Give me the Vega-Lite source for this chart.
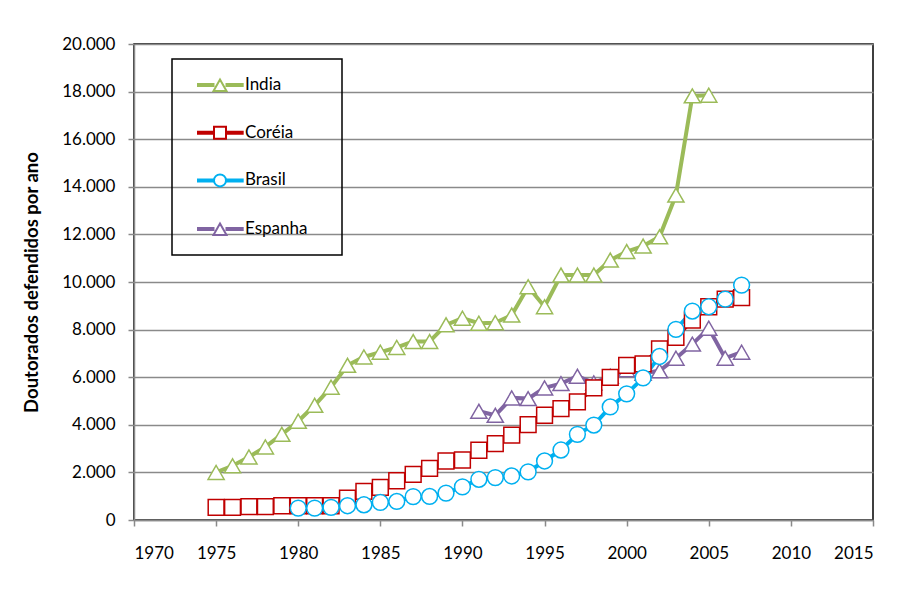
{
  "$schema": "https://vega.github.io/schema/vega-lite/v6.json",
  "width": 739,
  "height": 476,
  "autosize": "none",
  "padding": {"left": 134, "top": 44, "right": 43, "bottom": 82},
  "background": "white",
  "config": {
    "font": "Lato",
    "view": {"stroke": "black", "strokeWidth": 1.5},
    "axis": {
      "labelFont": "Lato", "labelFontSize": 17, "labelColor": "black",
      "domainColor": "#8a8a8a", "domainWidth": 1.5,
      "tickColor": "#8a8a8a", "tickWidth": 1.5, "tickSize": 6
    }
  },
  "data": {
    "values": [
      {"pais": "India", "ano": 1975, "v": 2000},
      {"pais": "India", "ano": 1976, "v": 2280},
      {"pais": "India", "ano": 1977, "v": 2650},
      {"pais": "India", "ano": 1978, "v": 3070},
      {"pais": "India", "ano": 1979, "v": 3600},
      {"pais": "India", "ano": 1980, "v": 4150},
      {"pais": "India", "ano": 1981, "v": 4820},
      {"pais": "India", "ano": 1982, "v": 5580},
      {"pais": "India", "ano": 1983, "v": 6500},
      {"pais": "India", "ano": 1984, "v": 6850},
      {"pais": "India", "ano": 1985, "v": 7050},
      {"pais": "India", "ano": 1986, "v": 7250},
      {"pais": "India", "ano": 1987, "v": 7500},
      {"pais": "India", "ano": 1988, "v": 7500},
      {"pais": "India", "ano": 1989, "v": 8200},
      {"pais": "India", "ano": 1990, "v": 8480},
      {"pais": "India", "ano": 1991, "v": 8270},
      {"pais": "India", "ano": 1992, "v": 8290},
      {"pais": "India", "ano": 1993, "v": 8610},
      {"pais": "India", "ano": 1994, "v": 9800},
      {"pais": "India", "ano": 1995, "v": 8960},
      {"pais": "India", "ano": 1996, "v": 10290},
      {"pais": "India", "ano": 1997, "v": 10290},
      {"pais": "India", "ano": 1998, "v": 10290},
      {"pais": "India", "ano": 1999, "v": 10920},
      {"pais": "India", "ano": 2000, "v": 11280},
      {"pais": "India", "ano": 2001, "v": 11510},
      {"pais": "India", "ano": 2002, "v": 11900},
      {"pais": "India", "ano": 2003, "v": 13650},
      {"pais": "India", "ano": 2004, "v": 17820},
      {"pais": "India", "ano": 2005, "v": 17850},
      {"pais": "Coréia", "ano": 1975, "v": 530},
      {"pais": "Coréia", "ano": 1976, "v": 530},
      {"pais": "Coréia", "ano": 1977, "v": 560},
      {"pais": "Coréia", "ano": 1978, "v": 560},
      {"pais": "Coréia", "ano": 1979, "v": 600},
      {"pais": "Coréia", "ano": 1980, "v": 600},
      {"pais": "Coréia", "ano": 1981, "v": 600},
      {"pais": "Coréia", "ano": 1982, "v": 600},
      {"pais": "Coréia", "ano": 1983, "v": 920},
      {"pais": "Coréia", "ano": 1984, "v": 1200},
      {"pais": "Coréia", "ano": 1985, "v": 1370},
      {"pais": "Coréia", "ano": 1986, "v": 1650},
      {"pais": "Coréia", "ano": 1987, "v": 1920},
      {"pais": "Coréia", "ano": 1988, "v": 2170},
      {"pais": "Coréia", "ano": 1989, "v": 2480},
      {"pais": "Coréia", "ano": 1990, "v": 2520},
      {"pais": "Coréia", "ano": 1991, "v": 2930},
      {"pais": "Coréia", "ano": 1992, "v": 3210},
      {"pais": "Coréia", "ano": 1993, "v": 3570},
      {"pais": "Coréia", "ano": 1994, "v": 4010},
      {"pais": "Coréia", "ano": 1995, "v": 4400},
      {"pais": "Coréia", "ano": 1996, "v": 4680},
      {"pais": "Coréia", "ano": 1997, "v": 4960},
      {"pais": "Coréia", "ano": 1998, "v": 5550},
      {"pais": "Coréia", "ano": 1999, "v": 5990},
      {"pais": "Coréia", "ano": 2000, "v": 6500},
      {"pais": "Coréia", "ano": 2001, "v": 6560},
      {"pais": "Coréia", "ano": 2002, "v": 7190},
      {"pais": "Coréia", "ano": 2003, "v": 7670},
      {"pais": "Coréia", "ano": 2004, "v": 8400},
      {"pais": "Coréia", "ano": 2005, "v": 8960},
      {"pais": "Coréia", "ano": 2006, "v": 9280},
      {"pais": "Coréia", "ano": 2007, "v": 9340},
      {"pais": "Brasil", "ano": 1980, "v": 500},
      {"pais": "Brasil", "ano": 1981, "v": 500},
      {"pais": "Brasil", "ano": 1982, "v": 530},
      {"pais": "Brasil", "ano": 1983, "v": 600},
      {"pais": "Brasil", "ano": 1984, "v": 640},
      {"pais": "Brasil", "ano": 1985, "v": 740},
      {"pais": "Brasil", "ano": 1986, "v": 780},
      {"pais": "Brasil", "ano": 1987, "v": 980},
      {"pais": "Brasil", "ano": 1988, "v": 990},
      {"pais": "Brasil", "ano": 1989, "v": 1130},
      {"pais": "Brasil", "ano": 1990, "v": 1390},
      {"pais": "Brasil", "ano": 1991, "v": 1710},
      {"pais": "Brasil", "ano": 1992, "v": 1780},
      {"pais": "Brasil", "ano": 1993, "v": 1850},
      {"pais": "Brasil", "ano": 1994, "v": 2020},
      {"pais": "Brasil", "ano": 1995, "v": 2480},
      {"pais": "Brasil", "ano": 1996, "v": 2940},
      {"pais": "Brasil", "ano": 1997, "v": 3600},
      {"pais": "Brasil", "ano": 1998, "v": 3990},
      {"pais": "Brasil", "ano": 1999, "v": 4750},
      {"pais": "Brasil", "ano": 2000, "v": 5300},
      {"pais": "Brasil", "ano": 2001, "v": 5970},
      {"pais": "Brasil", "ano": 2002, "v": 6870},
      {"pais": "Brasil", "ano": 2003, "v": 8010},
      {"pais": "Brasil", "ano": 2004, "v": 8780},
      {"pais": "Brasil", "ano": 2005, "v": 8960},
      {"pais": "Brasil", "ano": 2006, "v": 9280},
      {"pais": "Brasil", "ano": 2007, "v": 9870},
      {"pais": "Espanha", "ano": 1991, "v": 4570},
      {"pais": "Espanha", "ano": 1992, "v": 4400},
      {"pais": "Espanha", "ano": 1993, "v": 5130},
      {"pais": "Espanha", "ano": 1994, "v": 5100},
      {"pais": "Espanha", "ano": 1995, "v": 5550},
      {"pais": "Espanha", "ano": 1996, "v": 5730},
      {"pais": "Espanha", "ano": 1997, "v": 6040},
      {"pais": "Espanha", "ano": 1998, "v": 5760},
      {"pais": "Espanha", "ano": 1999, "v": 6040},
      {"pais": "Espanha", "ano": 2000, "v": 6310},
      {"pais": "Espanha", "ano": 2001, "v": 6170},
      {"pais": "Espanha", "ano": 2002, "v": 6270},
      {"pais": "Espanha", "ano": 2003, "v": 6800},
      {"pais": "Espanha", "ano": 2004, "v": 7390},
      {"pais": "Espanha", "ano": 2005, "v": 8060},
      {"pais": "Espanha", "ano": 2006, "v": 6800},
      {"pais": "Espanha", "ano": 2007, "v": 7050}
    ]
  },
  "encoding": {
    "x": {
      "field": "ano", "type": "quantitative",
      "scale": {"domain": [1970, 2015], "nice": false, "zero": false},
      "axis": {"title": null, "values": [1970, 1975, 1980, 1985, 1990, 1995, 2000, 2005, 2010, 2015], "format": "d", "grid": false, "labelPadding": 19}
    },
    "y": {
      "field": "v", "type": "quantitative",
      "scale": {"domain": [0, 20000], "nice": false},
      "axis": {
        "title": "Doutorados defendidos por ano",
        "titleFont": "Lato", "titleFontSize": 18.5, "titleFontWeight": "bold", "titleColor": "black",
        "titleX": -97, "titleY": 238, "titleAngle": 270, "titleAlign": "center", "titleBaseline": "alphabetic",
        "values": [0, 2000, 4000, 6000, 8000, 10000, 12000, 14000, 16000, 18000, 20000],
        "labelExpr": "replace(format(datum.value, ','), ',', '.')",
        "labelPadding": 13,
        "grid": true, "gridColor": "#8a8a8a", "gridWidth": 1.5
      }
    }
  },
  "layer": [
    {
      "mark": {"type": "line", "strokeWidth": 4},
      "encoding": {
        "color": {
          "field": "pais", "type": "nominal",
          "scale": {"domain": ["India", "Coréia", "Brasil", "Espanha"], "range": ["#9BBB59", "#C00000", "#00B0F0", "#8064A2"]},
          "legend": {
            "title": null,
            "orient": "none", "legendX": 38, "legendY": 15,
            "padding": 15,
            "strokeColor": "black",
            "labelFont": "Lato", "labelFontSize": 17, "labelColor": "black",
            "symbolSize": 400,
            "labelOffset": 36,
            "rowPadding": 26.7,
            "encode": {
              "legend": {"update": {"strokeWidth": {"value": 1.5}}},
              "symbols": {
                "update": {
                  "shape": {"signal": "datum.value === 'Coréia' ? 'M0,-0.1H1.55V0.1H0Z M2.85,-0.1H4.47V0.1H2.85Z M1.6,-0.6H2.8V0.6H1.6Z M12.5,0' : datum.value === 'Brasil' ? 'M0,-0.1H1.55V0.1H0Z M2.85,-0.1H4.47V0.1H2.85Z M2.8,0A0.6,0.6,0,1,1,1.6,0A0.6,0.6,0,1,1,2.8,0Z M12.5,0' : 'M0,-0.1H1.55V0.1H0Z M2.85,-0.1H4.47V0.1H2.85Z M2.2,-0.55L2.85,0.6H1.55Z M12.5,0'"},
                  "fill": {"value": "white"},
                  "strokeWidth": {"value": 2},
                  "opacity": {"value": 1}
                }
              }
            }
          }
        }
      }
    },
    {
      "transform": [{"filter": {"field": "pais", "oneOf": ["India", "Espanha"]}}],
      "mark": {"type": "point", "shape": "triangle-up", "filled": true, "fill": "white", "size": 260, "strokeWidth": 1.5, "opacity": 1},
      "encoding": {
        "stroke": {
          "field": "pais", "type": "nominal",
          "scale": {"domain": ["India", "Coréia", "Brasil", "Espanha"], "range": ["#9BBB59", "#C00000", "#00B0F0", "#8064A2"]},
          "legend": null
        }
      }
    },
    {
      "transform": [{"filter": {"field": "pais", "equal": "Coréia"}}],
      "mark": {"type": "point", "shape": "square", "filled": true, "fill": "white", "size": 250, "strokeWidth": 1.5, "opacity": 1},
      "encoding": {
        "stroke": {
          "field": "pais", "type": "nominal",
          "scale": {"domain": ["India", "Coréia", "Brasil", "Espanha"], "range": ["#9BBB59", "#C00000", "#00B0F0", "#8064A2"]},
          "legend": null
        }
      }
    },
    {
      "transform": [{"filter": {"field": "pais", "equal": "Brasil"}}],
      "mark": {"type": "point", "shape": "circle", "filled": true, "fill": "white", "size": 250, "strokeWidth": 1.5, "opacity": 1},
      "encoding": {
        "stroke": {
          "field": "pais", "type": "nominal",
          "scale": {"domain": ["India", "Coréia", "Brasil", "Espanha"], "range": ["#9BBB59", "#C00000", "#00B0F0", "#8064A2"]},
          "legend": null
        }
      }
    }
  ]
}
